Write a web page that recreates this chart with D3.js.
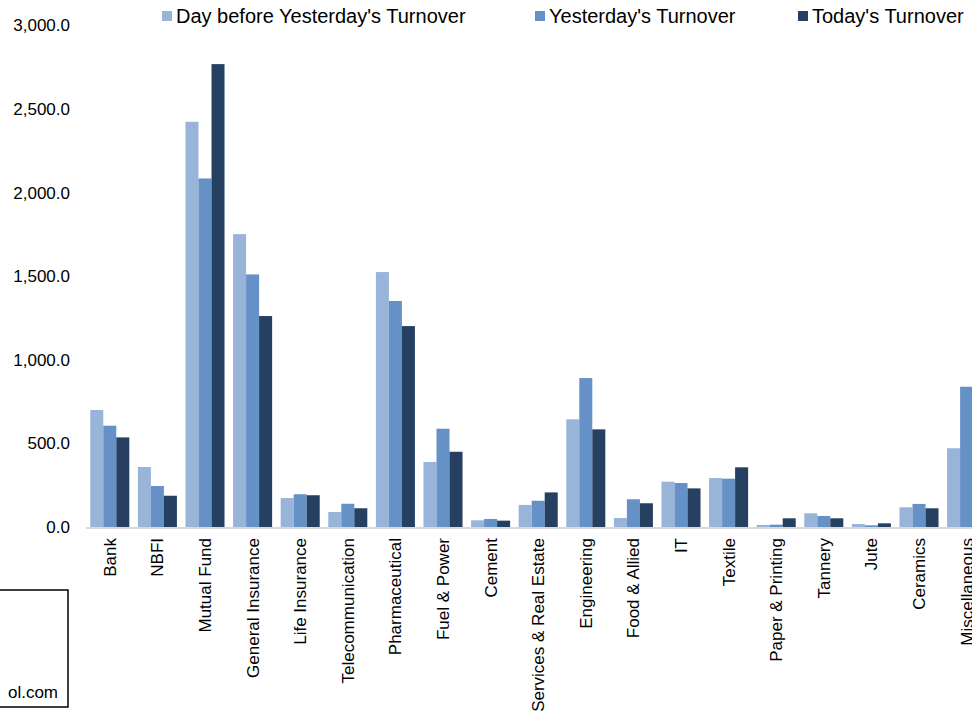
<!DOCTYPE html>
<html>
<head>
<meta charset="utf-8">
<script src="https://cdn.jsdelivr.net/npm/d3@7"></script>
<style>
  html, body { margin: 0; padding: 0; background: #fff; overflow: hidden; }
  svg { display: block; font-family: "Liberation Sans", Arial, sans-serif; }
</style>
</head>
<body>
<svg id="chart" width="972" height="715"></svg>
<script>
const categories = ["Bank", "NBFI", "Mutual Fund", "General Insurance", "Life Insurance",
  "Telecommunication", "Pharmaceutical", "Fuel & Power", "Cement", "Services & Real Estate",
  "Engineering", "Food & Allied", "IT", "Textile", "Paper & Printing", "Tannery", "Jute",
  "Ceramics", "Miscellaneous"];
const seriesNames = ["Day before Yesterday's Turnover", "Yesterday's Turnover", "Today's Turnover"];
const dayBeforeYesterday = [700, 359, 2424, 1752, 173, 90, 1525, 389, 40, 132, 644, 54, 271, 293, 12, 82, 18, 118, 471];
const yesterday          = [606, 245, 2085, 1511, 196, 139, 1352, 588, 48, 157, 891, 166, 263, 289, 14, 66, 10, 138, 839];
const today              = [536, 187, 2769, 1262, 190, 112, 1202, 450, 38, 207, 584, 142, 231, 357, 52, 52, 22, 112, 650];
const yTicks = [0, 500, 1000, 1500, 2000, 2500, 3000];
const colors = ["#98B4D9", "#6591C6", "#254061"];
const boxText = "ol.com";

const svg = d3.select("#chart");
const series = [dayBeforeYesterday, yesterday, today];

const x = d3.scaleBand().domain(categories).range([86, 990.4]).paddingInner(0.18).paddingOuter(0.09);
const xs = d3.scaleBand().domain(d3.range(series.length)).range([0, x.bandwidth()]);
const y = d3.scaleLinear().domain([0, 3000]).range([527, 25.5]);

// bars
const groups = svg.append("g").selectAll("g").data(categories).join("g")
  .attr("transform", d => `translate(${x(d)},0)`);
groups.selectAll("rect")
  .data((d, i) => series.map((s, k) => ({k, v: s[i]})))
  .join("rect")
  .attr("x", d => xs(d.k))
  .attr("width", xs.bandwidth())
  .attr("y", d => y(d.v))
  .attr("height", d => y(0) - y(d.v))
  .attr("fill", d => colors[d.k]);

// x axis line
svg.append("line").attr("x1", 86).attr("x2", 990).attr("y1", y(0) + 1).attr("y2", y(0) + 1)
  .attr("stroke", "#D9D9D9").attr("stroke-width", 2);

// y axis labels
const yAxis = d3.axisLeft(y).tickValues(yTicks).tickFormat(d3.format(",.1f")).tickSize(0).tickPadding(0);
const yg = svg.append("g").attr("transform", "translate(70,0)").call(yAxis);
yg.select(".domain").remove();
yg.selectAll("text").attr("font-size", 17).attr("fill", "#000")
  .attr("font-family", "Liberation Sans, Arial, sans-serif");

// x labels
svg.append("g").selectAll("text").data(categories).join("text")
  .attr("transform", d => `translate(${x(d) + x.bandwidth() / 2},538) rotate(-90)`)
  .attr("text-anchor", "end")
  .attr("dy", "0.35em")
  .attr("font-size", 17)
  .attr("fill", "#000")
  .text(d => d);

// legend
const legendX = [162, 535, 798];
const lg = svg.append("g").selectAll("g").data(seriesNames).join("g")
  .attr("transform", (d, i) => `translate(${legendX[i]},0)`);
lg.append("rect").attr("x", 0).attr("y", 11).attr("width", 10).attr("height", 10)
  .attr("fill", (d, i) => colors[i]);
lg.append("text").attr("x", 14).attr("y", 23).attr("font-size", 20).attr("fill", "#000").text(d => d);

// bottom-left box
svg.append("rect").attr("x", -5).attr("y", 590).attr("width", 73).attr("height", 117)
  .attr("fill", "#fff").attr("stroke", "#000").attr("stroke-width", 1.5);
svg.append("text").attr("x", 58).attr("y", 698).attr("text-anchor", "end")
  .attr("font-size", 17).attr("fill", "#000").text(boxText);
</script>
</body>
</html>
